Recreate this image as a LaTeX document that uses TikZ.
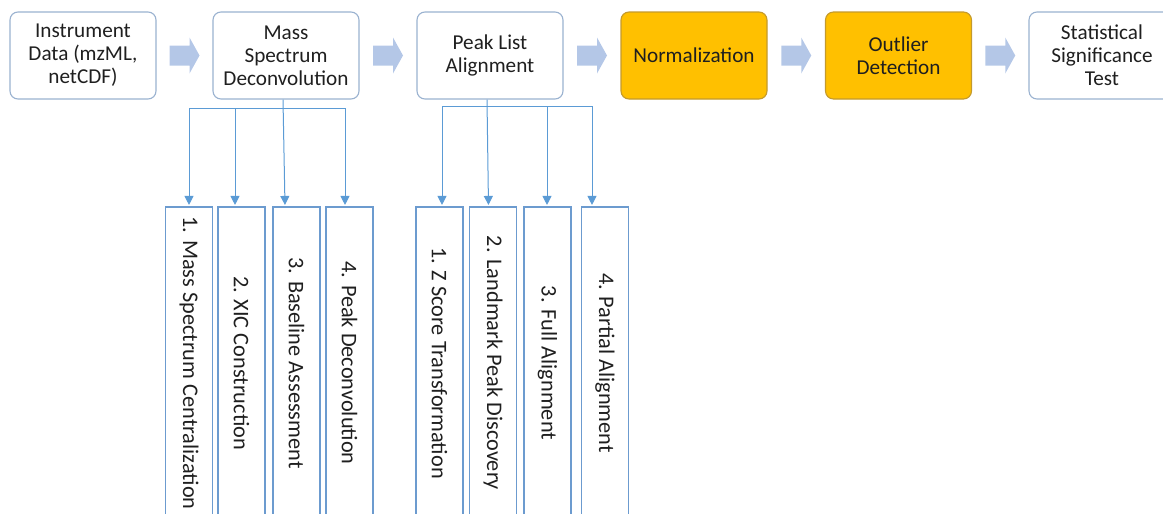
\documentclass[tikz,border=0pt]{standalone}
\usepackage{fontspec}
\setmainfont{Carlito}
\usetikzlibrary{arrows.meta,calc}
\definecolor{boxline}{HTML}{9AB2D0}
\definecolor{orangefill}{HTML}{FFC000}
\definecolor{orangeline}{HTML}{C49A2C}
\definecolor{barrowcol}{HTML}{B4C7E7}
\definecolor{conncol}{HTML}{5B9BD5}
\definecolor{vline}{HTML}{6C9BCF}
\begin{document}
\begin{tikzpicture}[x=1pt,y=-1pt,
  topbox/.style={draw=boxline,line width=1.1pt,rounded corners=8pt,minimum width=146pt,minimum height=87pt,align=center,font=\fontsize{21.2}{23}\selectfont,text=black!88,inner sep=0pt},
  hlbox/.style={topbox,fill=orangefill,draw=orangeline},
  vbox/.style={draw=vline,line width=1.1pt,minimum width=47pt,minimum height=312pt,inner sep=0pt,font=\fontsize{22.3}{24}\selectfont,text=black!88},
  conn/.style={draw=conncol,line width=1pt,-{Triangle[length=9pt,width=9pt]},shorten >=1.5pt},
  bus/.style={draw=conncol,line width=1pt},
  barrow/.style={fill=barrowcol}]
\useasboundingbox (0,0) rectangle (1163,514);

% top row
\node[topbox] (inst) at (83,55.5) {Instrument\\Data (mzML,\\netCDF)};
\node[topbox] (msd) at (286,55.5) {Mass\\Spectrum\\Deconvolution};
\node[topbox] (pla) at (490,55.5) {Peak List\\Alignment};
\node[hlbox] (norm) at (694,55.5) {Normalization};
\node[hlbox] (out) at (898.5,55.5) {Outlier\\Detection};
\node[topbox] (stat) at (1102,55.5) {Statistical\\Significance\\Test};

% block arrows between top boxes
\foreach \a/\b/\n in {inst/msd/m1,msd/pla/m2,pla/norm/m3,norm/out/m4,out/stat/m5}{
  \path (\a.east) -- (\b.west) coordinate[midway] (\n);
  \fill[barrow,shift={(\n)}] (-15,-10) -- (5,-10) -- (5,-18) -- (15,0) -- (5,18) -- (5,10) -- (-15,10) -- cycle;
}

% vertical boxes, group A
\node[vbox] (a1) at (189,363) {\rotatebox{-90}{1. Mass Spectrum Centralization}};
\node[vbox] (a2) at (241.5,363) {\rotatebox{-90}{2. XIC Construction}};
\node[vbox] (a3) at (296.5,363) {\rotatebox{-90}{3. Baseline Assessment}};
\node[vbox] (a4) at (349.5,363) {\rotatebox{-90}{4. Peak Deconvolution}};

% vertical boxes, group B
\node[vbox] (b1) at (439.5,363) {\rotatebox{-90}{1. Z Score Transformation}};
\node[vbox] (b2) at (493,363) {\rotatebox{-90}{2. Landmark Peak Discovery}};
\node[vbox] (b3) at (547.5,363) {\rotatebox{-90}{3. Full Alignment}};
\node[vbox] (b4) at (605,363) {\rotatebox{-90}{4. Partial Alignment}};

% connectors group A
\coordinate (sa) at (283,99);
\coordinate (ja1) at (189,108);
\coordinate (ja2) at (235,108);
\coordinate (ja4) at (345,108);
\draw[bus] (ja1) -- (ja4);
\draw[conn] (ja1) -- (ja1 |- a1.north);
\draw[conn] (ja2) -- (ja2 |- a2.north);
\draw[conn] (msd.south -| sa) -- ($(a3.north)+(-11.5,0)$);
\draw[conn] (ja4) -- (ja4 |- a4.north);

% connectors group B
\coordinate (sb) at (487,99);
\coordinate (jb1) at (442,106);
\coordinate (jb3) at (547,106);
\coordinate (jb4) at (592,106);
\draw[bus] (jb1) -- (jb4);
\draw[conn] (jb1) -- (jb1 |- b1.north);
\draw[conn] (pla.south -| sb) -- ($(b2.north)+(-4.5,0)$);
\draw[conn] (jb3) -- (jb3 |- b3.north);
\draw[conn] (jb4) -- (jb4 |- b4.north);
\end{tikzpicture}
\end{document}
